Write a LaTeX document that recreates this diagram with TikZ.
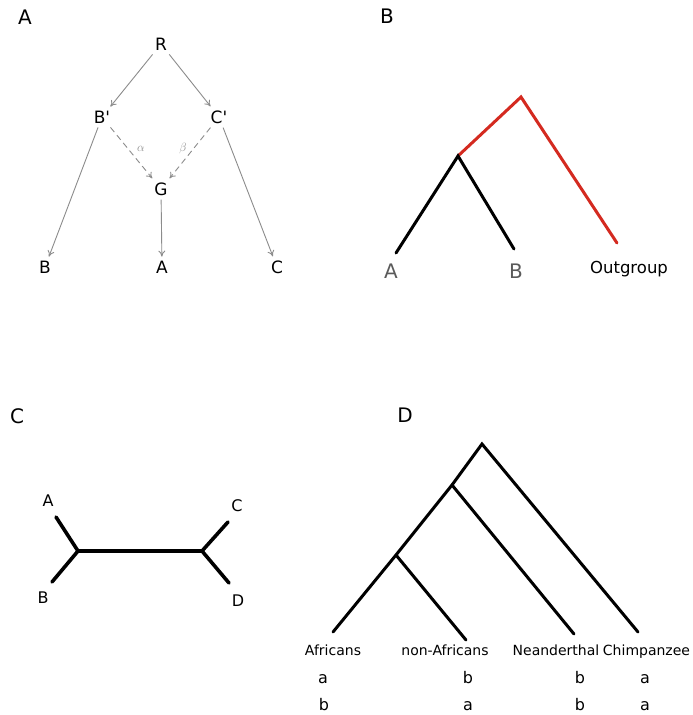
\documentclass[tikz,border=0pt]{standalone}
\usepackage{fontspec}
\setmainfont{DejaVu Sans}
\usetikzlibrary{arrows.meta}
\definecolor{arrgray}{HTML}{8C8C8C}
\definecolor{labgray}{HTML}{5A5A5A}
\definecolor{treered}{HTML}{D42A20}
\tikzset{
  panel/.style={font=\fontsize{20}{24}\selectfont},
  anode/.style={font=\fontsize{17}{20}\selectfont, inner sep=4pt},
  aedge/.style={draw=arrgray, line width=0.9pt, -{To[length=6pt,width=7pt]}},
  adash/.style={aedge, dash pattern=on 6pt off 4pt},
  greek/.style={text=arrgray, font=\fontsize{13}{15}\selectfont},
  btree/.style={line width=3pt, line cap=round},
  ctree/.style={line width=3.6pt, line cap=round, line join=round},
  dtree/.style={line width=3pt, line cap=round},
  dlab/.style={font=\fontsize{14}{17}\selectfont, anchor=base},
  dstate/.style={font=\fontsize{16}{19}\selectfont, anchor=base},
}
\begin{document}
\begin{tikzpicture}[x=1pt,y=-1pt]
\path[use as bounding box, fill=white] (0,0) rectangle (693,715);

% ---------- Panel A ----------
\node[panel] (pA) at (25,17.5) {A};
\node[anode] (R)  at (161,44) {R};
\node[anode] (Bp) at (102,117) {B\textquotesingle};
\node[anode] (Cp) at (219,117) {C\textquotesingle};
\node[anode] (G)  at (161,189) {G};
\node[anode] (B)  at (45,267) {B};
\node[anode] (A)  at (162,267) {A};
\node[anode] (C)  at (277,267) {C};
\draw[aedge] (R) -- (Bp);
\draw[aedge] (R) -- (Cp);
\draw[aedge] (Bp) -- (B);
\draw[aedge] (Cp) -- (C);
\draw[aedge] (G) -- (A);
\draw[adash] (Bp) -- (G);
\draw[adash] (Cp) -- (G);
\node[greek] (alpha) at (141,149) {$\alpha$};
\node[greek] (beta)  at (183,148) {$\beta$};

% ---------- Panel B ----------
\node[panel] (pB) at (387,16) {B};
\coordinate (bRoot) at (521,97);
\coordinate (bIn) at (458,156);
\coordinate (bA) at (396,253);
\coordinate (bB) at (514,249);
\coordinate (bO) at (617,243);
\draw[btree, treered] (bIn) -- (bRoot) -- (bO);
\draw[btree] (bA) -- (bIn) -- (bB);
\node[text=labgray, font=\fontsize{20}{24}\selectfont] (bAl) at (391,271) {A};
\node[text=labgray, font=\fontsize{20}{24}\selectfont] (bBl) at (516,271) {B};
\node[font=\fontsize{16.5}{20}\selectfont, anchor=base] (bOl) at (629,273) {Outgroup};

% ---------- Panel C ----------
\node[panel] (pC) at (17,416) {C};
\coordinate (cL) at (78,551);
\coordinate (cR) at (202,551);
\coordinate (cA) at (56,517);
\coordinate (cB) at (52,582);
\coordinate (cC) at (228,522);
\coordinate (cD) at (229,583);
\draw[ctree] (cA) -- (cL) -- (cB);
\draw[ctree] (cL) -- (cR);
\draw[ctree] (cC) -- (cR) -- (cD);
\node[font=\fontsize{16}{19}\selectfont] (cAl) at (48,501) {A};
\node[font=\fontsize{16}{19}\selectfont] (cBl) at (43,598) {B};
\node[font=\fontsize{16}{19}\selectfont] (cCl) at (237,505.5) {C};
\node[font=\fontsize{16}{19}\selectfont] (cDl) at (238,601) {D};

% ---------- Panel D ----------
\node[panel] (pD) at (405,415.5) {D};
\coordinate (dRoot) at (482,444);
\coordinate (dN2) at (452,485);
\coordinate (dN3) at (396,555);
\coordinate (dAf) at (333,632);
\coordinate (dNA) at (466,640);
\coordinate (dNe) at (574,634);
\coordinate (dCh) at (638,632);
\draw[dtree] (dAf) -- (dN3) -- (dN2) -- (dRoot) -- (dCh);
\draw[dtree] (dN3) -- (dNA);
\draw[dtree] (dN2) -- (dNe);
\node[dlab] (lAf) at (333,655) {Africans};
\node[dlab] (lNA) at (445,655) {non-Africans};
\node[dlab] (lNe) at (556,655) {Neanderthal};
\node[dlab] (lCh) at (646.5,655) {Chimpanzee};
\node[dstate] (s1a) at (323,683) {a};
\node[dstate] (s1b) at (468,683) {b};
\node[dstate] (s1c) at (580,683) {b};
\node[dstate] (s1d) at (645,683) {a};
\node[dstate] (s2a) at (324,710) {b};
\node[dstate] (s2b) at (468,710) {a};
\node[dstate] (s2c) at (580,710) {b};
\node[dstate] (s2d) at (645,710) {a};
\end{tikzpicture}
\end{document}
